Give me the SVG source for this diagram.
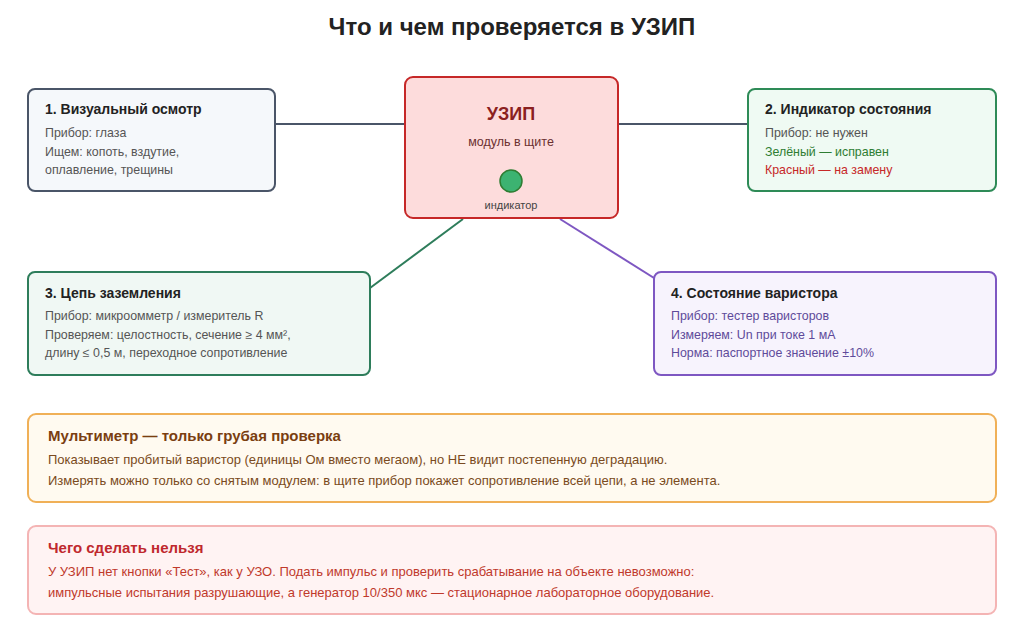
<svg xmlns="http://www.w3.org/2000/svg" width="1024" height="630" viewBox="0 0 1024 630">
<style>
text{font-family:"Liberation Sans",Arial,sans-serif}
.h{font-size:14px;font-weight:bold;fill:#222}
.t{font-size:12.4px;fill:#555}
.box{stroke-width:2}
</style>
<rect width="1024" height="630" fill="#fff"/>
<text x="512" y="35" text-anchor="middle" font-size="24" font-weight="bold" fill="#222">Что и чем проверяется в УЗИП</text>
<g id="connectors" stroke-width="2" fill="none">
<line x1="275" y1="124" x2="405" y2="124" stroke="#4a5568"/>
<line x1="618" y1="124" x2="748" y2="124" stroke="#4a5568"/>
<line x1="463" y1="219" x2="370" y2="288" stroke="#2e7d5b"/>
<line x1="560" y1="219" x2="670" y2="288" stroke="#7e57c2"/>
</g>
<g id="uzip">
<rect x="405" y="77" width="213" height="141" rx="8" fill="#fddcdc" stroke="#c62828" class="box" stroke-width="2.5"/>
<text x="511" y="120" text-anchor="middle" font-size="18" font-weight="bold" fill="#8b2020">УЗИП</text>
<text x="511" y="146" text-anchor="middle" font-size="12.5" fill="#6b3030">модуль в щите</text>
<circle cx="511" cy="181" r="11" fill="#3cb371" stroke="#2e7d32" stroke-width="1.5"/>
<text x="511" y="209" text-anchor="middle" font-size="11" fill="#444">индикатор</text>
</g>
<g id="n1">
<rect x="28" y="89" width="247" height="102" rx="7" fill="#f5f8fb" stroke="#4a5568" class="box"/>
<text x="45" y="114" class="h">1. Визуальный осмотр</text>
<text x="45" y="137" class="t">Прибор: глаза</text>
<text x="45" y="156" class="t">Ищем: копоть, вздутие,</text>
<text x="45" y="174" class="t">оплавление, трещины</text>
</g>
<g id="n2">
<rect x="748" y="89" width="248" height="102" rx="7" fill="#effaf3" stroke="#2e8b57" class="box"/>
<text x="765" y="114" class="h">2. Индикатор состояния</text>
<text x="765" y="137" class="t">Прибор: не нужен</text>
<text x="765" y="156" class="t" style="fill:#2e7d32">Зелёный — исправен</text>
<text x="765" y="174" class="t" style="fill:#c62828">Красный — на замену</text>
</g>
<g id="n3">
<rect x="28" y="272" width="342" height="103" rx="7" fill="#f0f8f4" stroke="#2e7d5b" class="box"/>
<text x="45" y="298" class="h">3. Цепь заземления</text>
<text x="45" y="320" class="t">Прибор: микроомметр / измеритель R</text>
<text x="45" y="339" class="t">Проверяем: целостность, сечение ≥ 4 мм²,</text>
<text x="45" y="357" class="t">длину ≤ 0,5 м, переходное сопротивление</text>
</g>
<g id="n4">
<rect x="654" y="272" width="342" height="103" rx="7" fill="#f7f3fd" stroke="#7e57c2" class="box"/>
<text x="671" y="298" class="h">4. Состояние варистора</text>
<text x="671" y="320" class="t" style="fill:#5e4a9a">Прибор: тестер варисторов</text>
<text x="671" y="339" class="t" style="fill:#5e4a9a">Измеряем: Un при токе 1 мА</text>
<text x="671" y="357" class="t" style="fill:#5e4a9a">Норма: паспортное значение ±10%</text>
</g>
<g id="note1">
<rect x="28" y="414" width="968" height="88" rx="8" fill="#fffaf0" stroke="#f0b057" class="box"/>
<text x="48" y="441" font-size="15" font-weight="bold" fill="#7a3e10">Мультиметр — только грубая проверка</text>
<text x="48" y="464" font-size="13" fill="#7a4a20">Показывает пробитый варистор (единицы Ом вместо мегаом), но НЕ видит постепенную деградацию.</text>
<text x="48" y="485" font-size="13" fill="#7a4a20">Измерять можно только со снятым модулем: в щите прибор покажет сопротивление всей цепи, а не элемента.</text>
</g>
<g id="note2">
<rect x="28" y="526" width="968" height="88" rx="8" fill="#fff3f3" stroke="#f4b4b4" class="box"/>
<text x="48" y="553" font-size="15" font-weight="bold" fill="#c0282d">Чего сделать нельзя</text>
<text x="48" y="576" font-size="13" fill="#c0392b">У УЗИП нет кнопки «Тест», как у УЗО. Подать импульс и проверить срабатывание на объекте невозможно:</text>
<text x="48" y="597" font-size="13" fill="#c0392b">импульсные испытания разрушающие, а генератор 10/350 мкс — стационарное лабораторное оборудование.</text>
</g>
</svg>
